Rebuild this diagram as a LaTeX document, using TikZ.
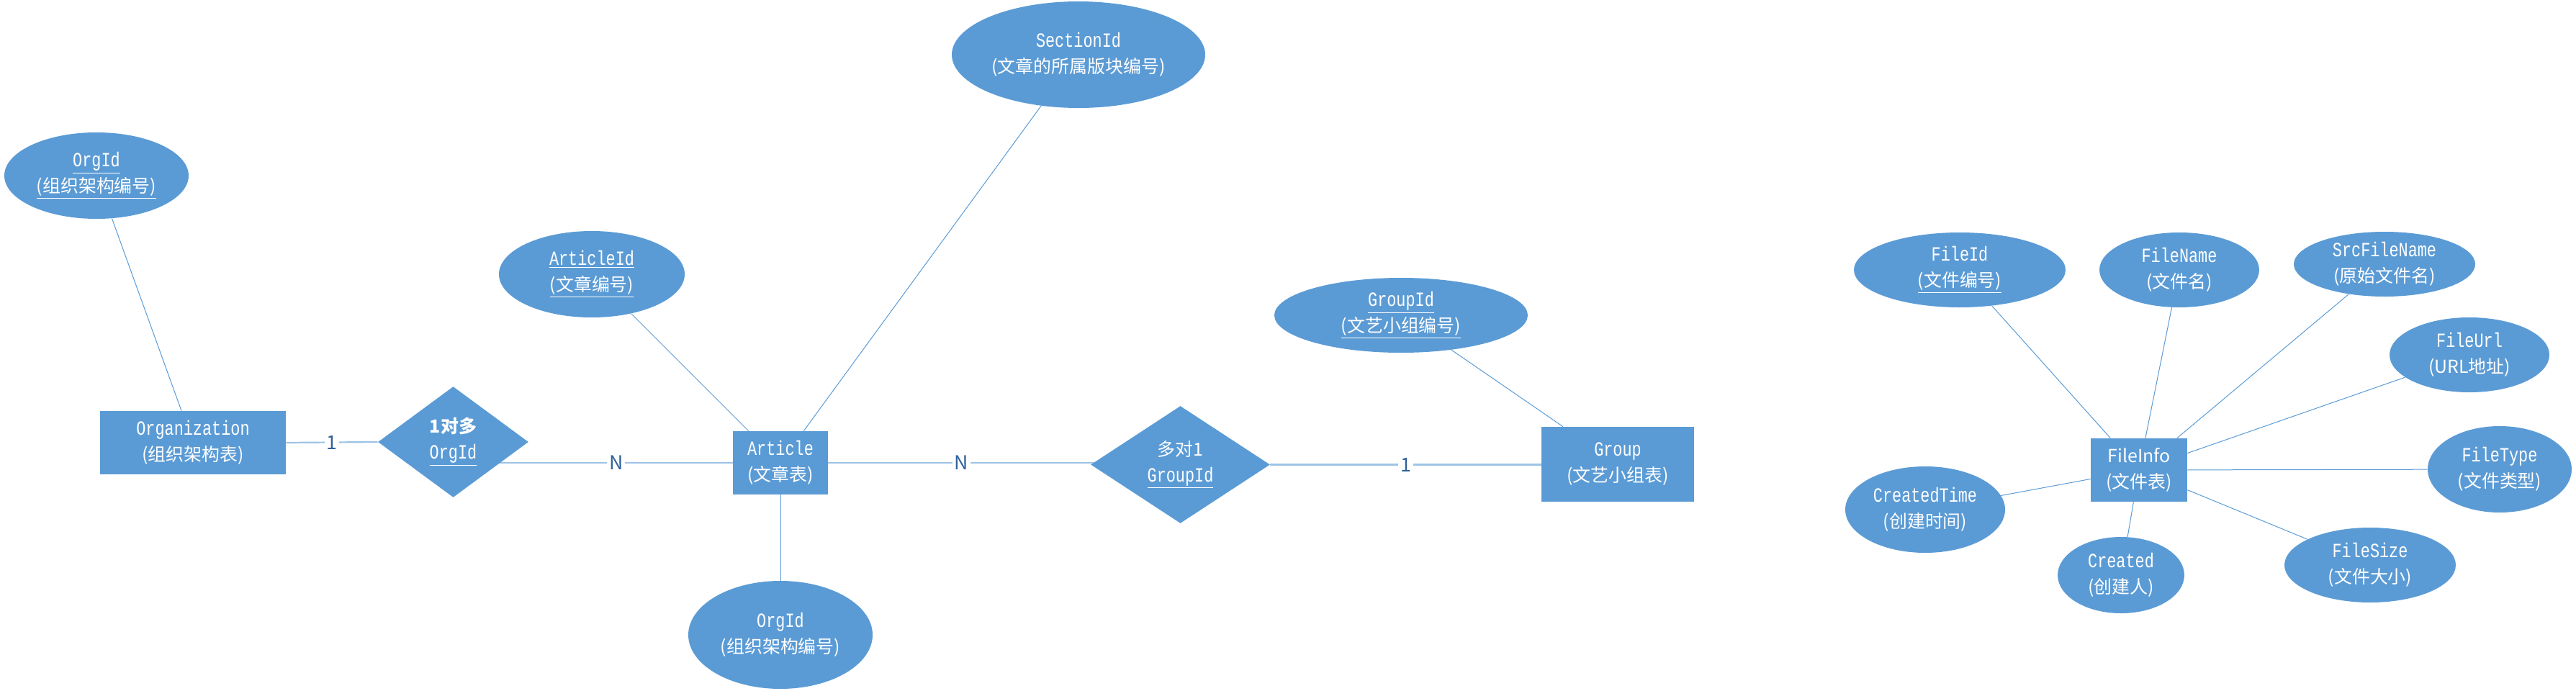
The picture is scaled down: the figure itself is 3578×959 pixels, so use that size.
\documentclass[tikz,border=0pt]{standalone}
\usepackage{fontspec}
\setmainfont{Liberation Mono}[FakeStretch=0.78]
\newfontfamily\cjk{Noto Sans CJK SC}[Scale=0.89]
\usetikzlibrary{shapes.geometric}
\definecolor{bl}{RGB}{91,155,213}
\definecolor{lb}{RGB}{157,195,230}
\definecolor{labc}{RGB}{47,98,155}
\pgfdeclarelayer{bg}
\pgfsetlayers{bg,main}
\begin{document}
\begin{tikzpicture}[x=0.5pt,y=-0.5pt,
  txt/.style={text=white, align=center, inner sep=0pt, font=\fontsize{14}{18}\selectfont},
  ent/.style={txt, rectangle, fill=bl},
  attr/.style={txt, ellipse, fill=bl},
  rel/.style={txt, diamond, fill=bl},
  aline/.style={draw=bl, line width=0.5pt},
  rline/.style={draw=lb, line width=1.1pt},
  lab/.style={fill=white, text=labc, inner sep=1.5pt, font=\cjk\fontsize{15}{15}\selectfont}]
\useasboundingbox (0,0) rectangle (3578,959);

% left part
\node[attr, minimum width=128pt, minimum height=60pt] (orgid1) at (134,244)
  {\underline{OrgId}\\{\cjk\underline{(组织架构编号)}}};
\node[ent, minimum width=129pt, minimum height=44pt] (org) at (268,615)
  {Organization\\{\cjk (组织架构表)}};
\node[rel, minimum width=104.5pt, minimum height=77pt] (d1) at (629.5,614)
  {{\cjk\bfseries 1对多}\\\underline{OrgId}};
\node[attr, minimum width=129pt, minimum height=60pt] (articleid) at (822,381)
  {\underline{ArticleId}\\{\cjk\underline{(文章编号)}}};
\node[attr, minimum width=176pt, minimum height=74pt] (sectionid) at (1498,76)
  {SectionId\\{\cjk (文章的所属版块编号)}};
\node[ent, minimum width=66pt, minimum height=44pt] (art) at (1084,643)
  {Article\\{\cjk (文章表)}};
\node[attr, minimum width=128pt, minimum height=75pt] (orgid2) at (1084,882)
  {OrgId\\{\cjk (组织架构编号)}};
\node[rel, minimum width=124.5pt, minimum height=81.5pt] (d2) at (1639.5,645.5)
  {{\cjk 多对1}\\\underline{GroupId}};
\node[attr, minimum width=176pt, minimum height=52pt] (groupid) at (1946,438)
  {\underline{GroupId}\\{\cjk\underline{(文艺小组编号)}}};
\node[ent, minimum width=106pt, minimum height=52pt] (grp) at (2247,645)
  {Group\\{\cjk (文艺小组表)}};

% right part
\node[ent, minimum width=67pt, minimum height=44pt] (fi) at (2971,653)
  {{\cjk FileInfo}\\{\cjk (文件表)}};
\node[attr, minimum width=147pt, minimum height=52pt] (fid) at (2722,375)
  {FileId\\{\cjk\underline{(文件编号)}}};
\node[attr, minimum width=111pt, minimum height=52pt] (fname) at (3027,375)
  {FileName\\{\cjk (文件名)}};
\node[attr, minimum width=126pt, minimum height=45pt] (fsrc) at (3312,367)
  {SrcFileName\\{\cjk (原始文件名)}};
\node[attr, minimum width=111pt, minimum height=52pt] (furl) at (3430,493)
  {FileUrl\\{\cjk (URL地址)}};
\node[attr, minimum width=100pt, minimum height=60pt] (ftype) at (3472,652)
  {FileType\\{\cjk (文件类型)}};
\node[attr, minimum width=119pt, minimum height=52pt] (fsize) at (3292,785)
  {FileSize\\{\cjk (文件大小)}};
\node[attr, minimum width=88pt, minimum height=53pt] (fcr) at (2946,799)
  {Created\\{\cjk (创建人)}};
\node[attr, minimum width=111pt, minimum height=60pt] (fct) at (2674,708)
  {CreatedTime\\{\cjk (创建时间)}};

\begin{pgfonlayer}{bg}
  \draw[aline] (orgid1) -- (org);
  \draw[aline] (articleid) -- (art);
  \draw[aline] (sectionid) -- (art);
  \draw[aline] (orgid2) -- (art);
  \draw[aline] (groupid) -- (grp);
  \draw[rline] (org.east) -- node[lab]{1} (d1.west);
  \draw[rline] (art.west) -- node[lab, pos=0.417]{N} (d1.center |- art.west);
  \draw[rline] (art.east) -- node[lab, pos=0.378]{N} (d2.center |- art.east);
  \draw[rline] (d2.east) -- node[lab]{1} (d2.east -| grp.west);
  \foreach \a in {fid,fname,fsrc,furl,ftype,fsize,fcr,fct}
    \draw[aline] (\a) -- (fi);
\end{pgfonlayer}
\end{tikzpicture}
\end{document}
